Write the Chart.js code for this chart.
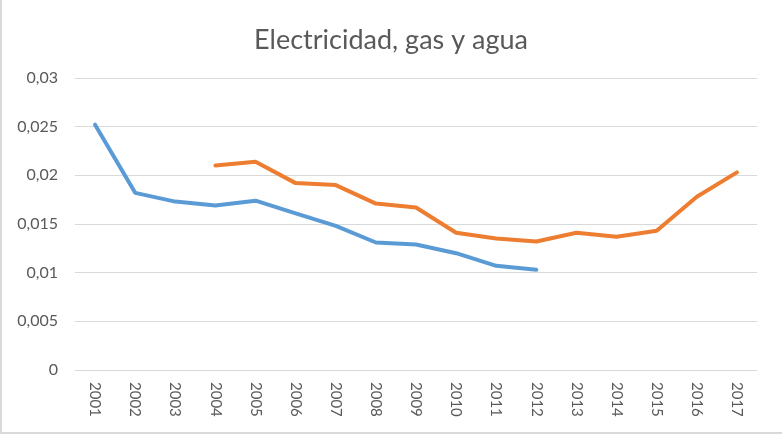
<!DOCTYPE html>
<html>
<head>
<meta charset="utf-8">
<script src="https://cdn.jsdelivr.net/npm/chart.js@4/dist/chart.umd.min.js"></script>
<style>
  html, body { margin: 0; padding: 0; background: #fff; }
  #box { width: 782px; height: 434px; position: relative; }
  #frame { position: absolute; left: 0; top: 0; width: 782px; height: 434px; box-sizing: border-box; border-left: 2px solid #d9d9d9; border-bottom: 2px solid #d9d9d9; pointer-events: none; }
  canvas { display: block; }
</style>
</head>
<body>
<div id="box"><canvas id="chart" width="782" height="434"></canvas><div id="frame"></div></div>
<script>
const years = ["2001","2002","2003","2004","2005","2006","2007","2008","2009","2010","2011","2012","2013","2014","2015","2016","2017"];
const serieAzul = [0.0252, 0.0182, 0.0173, 0.0169, 0.0174, 0.0161, 0.0148, 0.0131, 0.0129, 0.0120, 0.0107, 0.0103, null, null, null, null, null];
const serieNaranja = [null, null, null, 0.0210, 0.0214, 0.0192, 0.0190, 0.0171, 0.0167, 0.0141, 0.0135, 0.0132, 0.0141, 0.0137, 0.0143, 0.0178, 0.0203];
const yTickLabels = ["0", "0,005", "0,01", "0,015", "0,02", "0,025", "0,03"];
const chartTitle = "Electricidad, gas y agua";

const textColor = "#595959";
const gridColor = "#d9d9d9";
const fontName = "Lato, 'Open Sans', sans-serif";

// title and vertical year labels are drawn by hand so they read top-to-bottom
const extraText = {
    id: "extraText",
    afterDraw(chart) {
        const ctx = chart.ctx;
        const x = chart.scales.x;
        ctx.save();
        ctx.fillStyle = textColor;
        ctx.font = "27px " + fontName;
        ctx.textAlign = "center";
        ctx.textBaseline = "middle";
        ctx.fillText(chartTitle, chart.width / 2, 40);

        ctx.font = "15px " + fontName;
        ctx.textAlign = "left";
        years.forEach((y, i) => {
            ctx.save();
            ctx.translate(x.getPixelForValue(i), chart.chartArea.bottom + 12);
            ctx.rotate(Math.PI / 2);
            ctx.fillText(y, 0, 0);
            ctx.restore();
        });
        ctx.restore();
    }
};

new Chart(document.getElementById("chart").getContext("2d"), {
    type: "line",
    data: {
        labels: years,
        datasets: [
            {
                data: serieAzul,
                borderColor: "#5b9bd5",
                backgroundColor: "#5b9bd5",
            },
            {
                data: serieNaranja,
                borderColor: "#ed7d31",
                backgroundColor: "#ed7d31",
            },
        ],
    },
    options: {
        responsive: false,
        animation: false,
        devicePixelRatio: 1,
        layout: { padding: { top: 78, right: 25, left: 0, bottom: 0 } },
        elements: {
            line: { borderWidth: 4, tension: 0, borderCapStyle: "round", borderJoinStyle: "round" },
            point: { radius: 0, hoverRadius: 0 },
        },
        plugins: {
            legend: { display: false },
            title: { display: false },
            tooltip: { enabled: false },
        },
        scales: {
            x: {
                offset: true,
                grid: { display: false },
                border: { display: false },
                ticks: { display: false },
                afterFit(scale) { scale.height = 64; },
            },
            y: {
                min: 0,
                max: 0.03,
                grid: { color: gridColor, lineWidth: 1, drawTicks: false },
                border: { display: false },
                ticks: {
                    stepSize: 0.005,
                    padding: 17,
                    color: textColor,
                    font: { family: fontName, size: 16 },
                    callback: (v, i) => yTickLabels[i],
                },
                afterFit(scale) { scale.width = 75; },
            },
        },
    },
    plugins: [extraText],
});
</script>
</body>
</html>
